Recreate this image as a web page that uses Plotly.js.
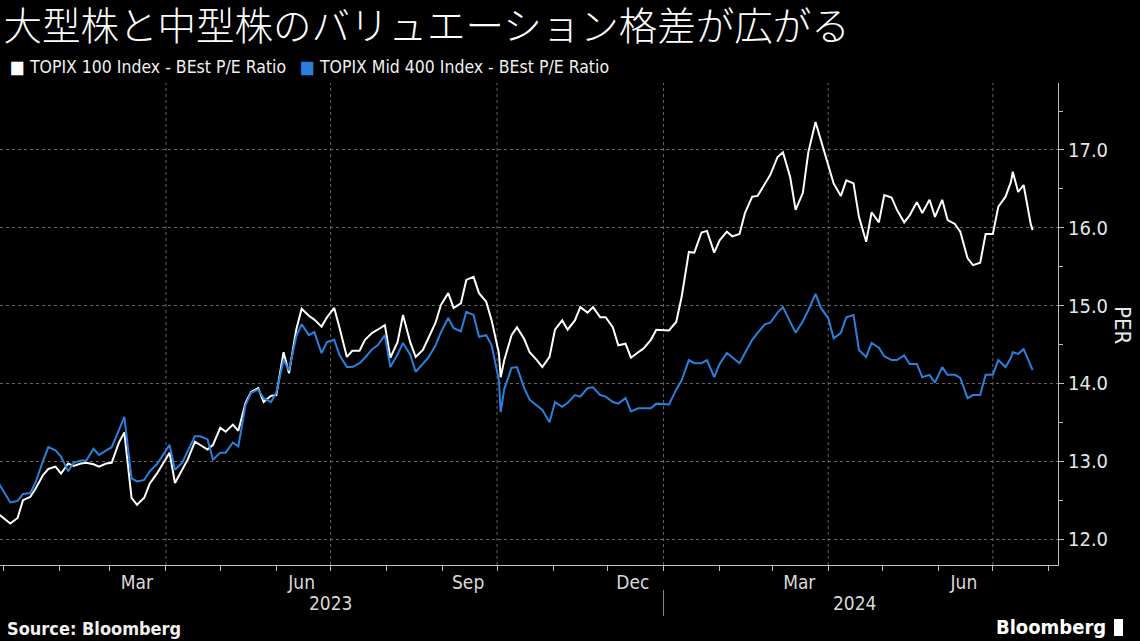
<!DOCTYPE html>
<html><head><meta charset="utf-8">
<script src="https://cdn.plot.ly/plotly-3.0.1.min.js"></script>
<style>html,body{margin:0;padding:0;background:#000;}#chart{width:1140px;height:641px;}</style>
</head><body><div id="chart"></div>
<script>
const dates = [
'2022-12-30','2023-01-05','2023-01-09','2023-01-12','2023-01-16','2023-01-19','2023-01-23','2023-01-26','2023-01-30',
'2023-02-02','2023-02-06','2023-02-09','2023-02-13','2023-02-16','2023-02-20','2023-02-23','2023-02-27',
'2023-03-02','2023-03-06','2023-03-09','2023-03-13','2023-03-16','2023-03-20','2023-03-23','2023-03-27','2023-03-30',
'2023-04-03','2023-04-06','2023-04-10','2023-04-13','2023-04-17','2023-04-20','2023-04-24','2023-04-27',
'2023-05-01','2023-05-04','2023-05-08','2023-05-11','2023-05-15','2023-05-18','2023-05-22','2023-05-25','2023-05-29',
'2023-06-01','2023-06-05','2023-06-08','2023-06-12','2023-06-15','2023-06-19','2023-06-22','2023-06-26','2023-06-29',
'2023-07-03','2023-07-06','2023-07-10','2023-07-13','2023-07-17','2023-07-20','2023-07-24','2023-07-27','2023-07-31',
'2023-08-03','2023-08-07','2023-08-10','2023-08-14','2023-08-17','2023-08-21','2023-08-24','2023-08-28','2023-08-31',
'2023-09-04','2023-09-07','2023-09-11','2023-09-14','2023-09-18','2023-09-21','2023-09-25','2023-09-28',
'2023-10-02','2023-10-03','2023-10-05','2023-10-09','2023-10-12','2023-10-16','2023-10-19','2023-10-23','2023-10-26','2023-10-30',
'2023-11-02','2023-11-06','2023-11-09','2023-11-13','2023-11-16','2023-11-20','2023-11-23','2023-11-27','2023-11-30',
'2023-12-04','2023-12-07','2023-12-11','2023-12-14','2023-12-18','2023-12-21','2023-12-25','2023-12-28',
'2024-01-04','2024-01-08','2024-01-11','2024-01-15','2024-01-18','2024-01-22','2024-01-25','2024-01-29',
'2024-02-01','2024-02-05','2024-02-08','2024-02-12','2024-02-15','2024-02-19','2024-02-22','2024-02-26','2024-02-29',
'2024-03-04','2024-03-07','2024-03-11','2024-03-14','2024-03-18','2024-03-21','2024-03-25','2024-03-28',
'2024-04-01','2024-04-04','2024-04-08','2024-04-11','2024-04-15','2024-04-18','2024-04-22','2024-04-25','2024-04-29',
'2024-05-02','2024-05-06','2024-05-09','2024-05-13','2024-05-16','2024-05-20','2024-05-23','2024-05-27','2024-05-30',
'2024-06-03','2024-06-06','2024-06-10','2024-06-13','2024-06-17','2024-06-20','2024-06-24','2024-06-27',
'2024-07-01','2024-07-04','2024-07-08','2024-07-11','2024-07-12','2024-07-15','2024-07-18','2024-07-22','2024-07-23'
];
const topix100 = [
12.31,12.20,12.27,12.50,12.54,12.65,12.82,12.90,12.93,
12.84,12.97,12.94,12.97,12.98,12.96,12.93,12.97,
12.98,13.24,13.37,12.53,12.44,12.53,12.71,12.84,12.96,
13.11,12.72,12.90,13.02,13.25,13.21,13.15,13.21,
13.43,13.38,13.47,13.39,13.75,13.89,13.94,13.76,13.84,
13.85,14.40,14.13,14.69,14.96,14.87,14.82,14.73,14.85,
14.97,14.71,14.34,14.42,14.42,14.56,14.65,14.69,14.75,
14.33,14.53,14.88,14.53,14.34,14.43,14.58,14.78,15.01,
15.16,14.97,15.03,15.33,15.37,15.16,15.05,14.81,
14.39,14.08,14.30,14.62,14.72,14.57,14.40,14.30,14.21,14.34,
14.69,14.81,14.69,14.81,14.98,14.91,14.98,14.85,14.85,
14.72,14.49,14.51,14.33,14.40,14.45,14.56,14.69,
14.68,14.79,15.11,15.69,15.68,15.94,15.96,15.68,
15.84,15.95,15.89,15.92,16.19,16.40,16.41,16.56,16.68,
16.91,16.97,16.65,16.23,16.45,16.97,17.36,17.12,
16.81,16.57,16.41,16.61,16.57,16.14,15.82,16.20,16.07,
16.42,16.39,16.23,16.07,16.16,16.33,16.19,16.36,16.14,
16.36,16.10,16.05,15.95,15.61,15.52,15.55,15.92,
15.92,16.27,16.40,16.59,16.72,16.46,16.55,16.04,15.97
];
const mid400 = [
12.70,12.47,12.49,12.58,12.59,12.73,13.00,13.18,13.14,
13.06,12.87,12.98,13.01,13.01,13.16,13.08,13.14,
13.18,13.40,13.57,12.78,12.74,12.76,12.87,12.96,13.06,
13.21,12.89,12.98,13.13,13.32,13.32,13.28,13.02,
13.11,13.11,13.24,13.19,13.72,13.88,13.92,13.81,13.76,
13.88,14.30,14.17,14.60,14.76,14.62,14.66,14.39,14.53,
14.56,14.36,14.21,14.21,14.26,14.33,14.44,14.49,14.62,
14.21,14.37,14.52,14.37,14.15,14.26,14.33,14.49,14.66,
14.84,14.71,14.67,14.92,14.88,14.60,14.62,14.49,
14.04,13.63,13.93,14.20,14.21,13.94,13.79,13.72,13.66,13.50,
13.76,13.70,13.75,13.85,13.83,13.94,13.95,13.85,13.83,
13.76,13.74,13.81,13.64,13.68,13.68,13.68,13.74,
13.73,13.92,14.04,14.30,14.26,14.26,14.30,14.08,
14.25,14.39,14.33,14.26,14.39,14.56,14.65,14.76,14.78,
14.91,14.98,14.78,14.65,14.80,14.94,15.15,14.97,
14.84,14.58,14.65,14.85,14.88,14.43,14.34,14.52,14.46,
14.35,14.30,14.30,14.36,14.25,14.25,14.08,14.11,14.01,
14.21,14.11,14.11,14.07,13.81,13.85,13.85,14.11,
14.11,14.30,14.21,14.33,14.40,14.38,14.44,14.21,14.17
];
const seriesNames = ['TOPIX 100 Index - BEst P/E Ratio','TOPIX Mid 400 Index - BEst P/E Ratio'];
const seriesColors = ['#ffffff','#2a80dc'];
const monthLabelDates = ['2023-03-16','2023-06-15','2023-09-15','2023-12-15','2024-03-16','2024-06-15'];
const monthLabels = ['Mar','Jun','Sep','Dec','Mar','Jun'];
const monthStarts = ['2023-01-01','2023-02-01','2023-03-01','2023-04-01','2023-05-01','2023-06-01','2023-07-01','2023-08-01','2023-09-01','2023-10-01','2023-11-01','2023-12-01','2024-01-01','2024-02-01','2024-03-01','2024-04-01','2024-05-01','2024-06-01','2024-07-01','2024-08-01'];
const quarterLines = ['2023-04-01','2023-07-01','2023-10-01','2024-01-01','2024-04-01','2024-07-01'];
const yearLabels = ['2023','2024'];
const yearCenters = ['2023-07-01','2024-04-16'];
const yearBoundary = '2024-01-01';
const yTicks = [12,13,14,15,16,17];
const yTickText = ['12.0','13.0','14.0','15.0','16.0','17.0'];
const yMinor = [12.5,13.5,14.5,15.5,16.5,17.5];
const titleText = '大型株と中型株のバリュエーション格差が広がる';
const yTitle = 'PER';
const sourceText = 'Source: Bloomberg';
const brandText = 'Bloomberg';

const W = 1140, H = 641;
const L = 0, R = 82, T = 83, B = 76;
const PW = W - L - R, PH = H - T - B;
const px = x => (x - L) / PW;
const py = y => (H - B - y) / PH;

const COND = '"DejaVu Sans Condensed", "DejaVu Sans", sans-serif';
const axisCol = '#bfbfbf';
const gridCol = '#666666';

const traces = [topix100, mid400].map((vals, i) => ({
  type: 'scatter', mode: 'lines', x: dates, y: vals, name: seriesNames[i],
  line: {color: seriesColors[i], width: 2}, hoverinfo: 'skip'
}));

const shapes = quarterLines.map(d => ({
  type: 'line', xref: 'x', yref: 'paper', x0: d, x1: d, y0: 0, y1: 1,
  line: {color: gridCol, width: 1, dash: 'dot'}, layer: 'below'
}));
shapes.push({type: 'line', xref: 'x', yref: 'paper', x0: yearBoundary, x1: yearBoundary,
  y0: py(590), y1: py(616), line: {color: '#8c8c8c', width: 1}});
shapes.push({type: 'rect', xref: 'paper', yref: 'paper', x0: px(1114), x1: px(1123), y0: py(636), y1: py(619),
  fillcolor: '#ffffff', line: {width: 0}});

const annotations = [];
const legX = [8, 298];
seriesNames.forEach((n, i) => {
  annotations.push({xref: 'paper', yref: 'paper', x: px(legX[i]), y: py(67), xanchor: 'left', yanchor: 'middle',
    showarrow: false, text: '<span style="color:' + seriesColors[i] + '">■</span> ' + n,
    font: {family: COND, size: 17.5, color: '#f0f0f0'}});
});
yearLabels.forEach((t, i) => {
  annotations.push({xref: 'x', yref: 'paper', x: yearCenters[i], y: py(603), xanchor: 'center', yanchor: 'middle',
    showarrow: false, text: t, font: {family: COND, size: 19, color: '#d9d9d9'}});
});
annotations.push({xref: 'paper', yref: 'paper', x: px(1123), y: py(325), xanchor: 'center', yanchor: 'middle',
  showarrow: false, text: yTitle, textangle: 90, font: {family: COND, size: 22, color: '#e6e6e6'}});
annotations.push({xref: 'paper', yref: 'paper', x: px(5), y: py(628), xanchor: 'left', yanchor: 'middle',
  showarrow: false, text: '<b>' + sourceText + '</b>', font: {family: COND, size: 18, color: '#f0f0f0'}});
annotations.push({xref: 'paper', yref: 'paper', x: px(1108), y: py(627), xanchor: 'right', yanchor: 'middle',
  showarrow: false, text: '<b>' + brandText + '</b>', font: {family: COND, size: 20, color: '#ffffff'}});

const layout = {
  width: W, height: H,
  paper_bgcolor: '#000000', plot_bgcolor: '#000000',
  margin: {l: L, r: R, t: T, b: B, pad: 0},
  showlegend: false,
  font: {family: COND, color: '#e6e6e6'},
  title: {text: titleText, xref: 'container', yref: 'container', x: 0.003, xanchor: 'left',
    y: 1 - 27 / H, yanchor: 'middle',
    font: {family: '"Noto Sans CJK JP", sans-serif', size: 38.5, weight: 300, color: '#ffffff'}},
  xaxis: {
    type: 'date', range: ['2022-12-30 07:00', '2024-08-06'],
    tickmode: 'array', tickvals: monthLabelDates, ticktext: monthLabels,
    ticks: '', showgrid: false, zeroline: false,
    showline: true, linecolor: axisCol, linewidth: 1,
    tickfont: {family: COND, size: 19, color: '#d9d9d9'},
    minor: {tickmode: 'array', tickvals: monthStarts, ticks: 'outside', ticklen: 5, tickcolor: axisCol, tickwidth: 1, showgrid: false},
    fixedrange: true
  },
  yaxis: {
    side: 'right', range: [11.666, 17.861],
    tickmode: 'array', tickvals: yTicks, ticktext: yTickText,
    ticks: 'outside', ticklen: 5, tickcolor: axisCol, tickwidth: 1,
    showgrid: true, gridcolor: gridCol, griddash: 'dot', gridwidth: 1,
    showline: true, linecolor: axisCol, linewidth: 1, zeroline: false,
    tickfont: {family: COND, size: 20, color: '#e6e6e6'},
    minor: {tickmode: 'array', tickvals: yMinor, ticks: 'outside', ticklen: 4, tickcolor: axisCol, showgrid: false},
    fixedrange: true
  },
  shapes: shapes,
  annotations: annotations
};

Plotly.newPlot('chart', traces, layout, {displayModeBar: false, staticPlot: true});
</script>
</body></html>
